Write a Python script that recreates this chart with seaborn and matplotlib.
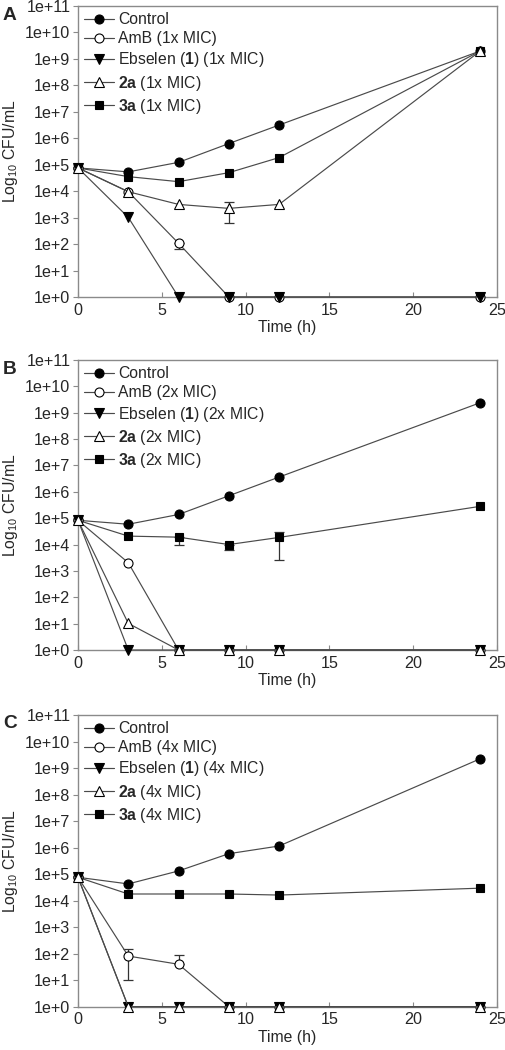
import numpy as np
import pandas as pd
import matplotlib
matplotlib.use("Agg")
import matplotlib.pyplot as plt
from matplotlib.ticker import FuncFormatter
import seaborn as sns

# ---------------- data (log10 CFU/mL) ----------------
times = [0, 3, 6, 9, 12, 24]

control_A = [4.88, 4.73, 5.09, 5.80, 6.50, 9.30]
amb_A     = [4.88, 3.98, 2.03, 0.0, 0.0, 0.0]
ebs_A     = [4.88, 3.01, 0.0, 0.0, 0.0, 0.0]
c2a_A     = [4.88, 3.98, 3.50, 3.35, 3.50, 9.30]
c3a_A     = [4.88, 4.55, 4.36, 4.70, 5.27, 9.30]

control_B = [4.92, 4.77, 5.14, 5.85, 6.56, 9.38]
amb_B     = [4.92, 3.31, 0.0, 0.0, 0.0, 0.0]
ebs_B     = [4.92, 0.0, 0.0, 0.0, 0.0, 0.0]
c2a_B     = [4.92, 1.01, 0.0, 0.0, 0.0, 0.0]
c3a_B     = [4.92, 4.32, 4.28, 4.00, 4.27, 5.45]

control_C = [4.88, 4.63, 5.12, 5.77, 6.06, 9.35]
amb_C     = [4.88, 1.91, 1.60, 0.0, 0.0, 0.0]
ebs_C     = [4.88, 0.0, 0.0, 0.0, 0.0, 0.0]
c2a_C     = [4.88, 0.0, 0.0, 0.0, 0.0, 0.0]
c3a_C     = [4.88, 4.25, 4.25, 4.25, 4.21, 4.47]

# error bars (lower, upper) in log10 units
err_lo_A = {"2a": [0, 0, 0, 0.56, 0, 0], "AmB": [0, 0, 0.22, 0, 0, 0]}
err_hi_A = {"2a": [0, 0, 0, 0.23, 0, 0], "AmB": [0, 0, 0, 0, 0, 0]}
err_lo_B = {"3a": [0, 0, 0.28, 0.21, 0.84, 0]}
err_hi_B = {"3a": [0, 0, 0, 0, 0.21, 0]}
err_lo_C = {"AmB": [0, 0.91, 0, 0, 0, 0]}
err_hi_C = {"AmB": [0, 0.26, 0.34, 0, 0, 0]}

panel_letters = ["A", "B", "C"]
mic_levels = ["1x", "2x", "4x"]
ytick_values = list(range(0, 12))
xtick_values = [0, 5, 10, 15, 20, 25]

panels = [
    {"Control": control_A, "AmB": amb_A, "Ebselen": ebs_A, "2a": c2a_A, "3a": c3a_A},
    {"Control": control_B, "AmB": amb_B, "Ebselen": ebs_B, "2a": c2a_B, "3a": c3a_B},
    {"Control": control_C, "AmB": amb_C, "Ebselen": ebs_C, "2a": c2a_C, "3a": c3a_C},
]
errs = [(err_lo_A, err_hi_A), (err_lo_B, err_hi_B), (err_lo_C, err_hi_C)]

# ---------------- style ----------------
sns.set_theme(style="white")
plt.rcParams["font.family"] = ["Liberation Sans", "DejaVu Sans"]
plt.rcParams["mathtext.fontset"] = "custom"
plt.rcParams["mathtext.rm"] = "Liberation Sans"
plt.rcParams["mathtext.bf"] = "Liberation Sans:bold"

FS = 11.3
TFS = 11.6
line_col = "#4a4a4a"
spine_col = "#8a8a8a"

styles = {
    "Control": dict(marker="o", mfc="black", ms=6.5),
    "AmB":     dict(marker="o", mfc="white", ms=6.5),
    "Ebselen": dict(marker="v", mfc="black", ms=7),
    "2a":      dict(marker="^", mfc="white", ms=7),
    "3a":      dict(marker="s", mfc="black", ms=6),
}

def labels_for(mic):
    return {
        "Control": "Control",
        "AmB": f"AmB ({mic} MIC)",
        "Ebselen": f"Ebselen ($\\mathbf{{1}}$) ({mic} MIC)",
        "2a": f"$\\mathbf{{2a}}$ ({mic} MIC)",
        "3a": f"$\\mathbf{{3a}}$ ({mic} MIC)",
    }

fig = plt.figure(figsize=(5.05, 10.5), dpi=100)
W, H = 505, 1050
boxes = [(6, 297), (360, 650), (715, 1006.7)]
left_px, right_px = 78, 497

order = ["Control", "AmB", "Ebselen", "2a", "3a"]
draw_order = ["Control", "3a", "AmB", "Ebselen", "2a"]

for i, (top, bot) in enumerate(boxes):
    ax = fig.add_axes([left_px / W, 1 - bot / H, (right_px - left_px) / W, (bot - top) / H])
    data = panels[i]
    lab = labels_for(mic_levels[i])
    lo, hi = errs[i]
    for key in draw_order:
        st = styles[key]
        df = pd.DataFrame({"t": times, "v": data[key]})
        sns.lineplot(data=df, x="t", y="v", ax=ax, color=line_col, lw=0.85,
                     marker=st["marker"], markersize=st["ms"],
                     markerfacecolor=st["mfc"], markeredgecolor="black",
                     markeredgewidth=0.8, label=lab[key], zorder=3, clip_on=False)
        if key in lo:
            t_arr = np.array(times)
            v_arr = np.array(data[key])
            l_arr = np.array(lo[key]); h_arr = np.array(hi[key])
            m = (l_arr > 0) | (h_arr > 0)
            ax.errorbar(t_arr[m], v_arr[m], yerr=[l_arr[m], h_arr[m]], fmt="none",
                        ecolor="#333333", elinewidth=0.9, capsize=3.5, capthick=0.9, zorder=2)
    h_, l_ = ax.get_legend_handles_labels()
    hmap = dict(zip(l_, h_))
    ax.legend([hmap[lab[k]] for k in order], [lab[k] for k in order],
              loc="upper left", bbox_to_anchor=(-0.012, 1.016), frameon=False,
              fontsize=FS, handlelength=1.9, handletextpad=0.3,
              labelspacing=0.26, borderaxespad=0.3)

    ax.set_xlim(0, 25)
    ax.set_ylim(0, 11)
    ax.set_xticks(xtick_values)
    ax.set_yticks(ytick_values)
    ax.yaxis.set_major_formatter(FuncFormatter(lambda v, p: f"1e+{int(round(v))}"))
    ax.tick_params(axis="x", direction="in", length=3.5, width=0.8, color=spine_col,
                   labelsize=TFS, pad=4, bottom=True)
    ax.tick_params(axis="y", direction="out", length=3.5, width=0.8, color=spine_col,
                   labelsize=TFS, pad=2, left=True)
    for s in ax.spines.values():
        s.set_color(spine_col)
        s.set_linewidth(1.0)
    ax.set_xlabel("Time (h)", fontsize=FS, labelpad=2)
    ax.set_ylabel("Log$_{10}$ CFU/mL", fontsize=FS, labelpad=4)
    ax.grid(False)
    fig.text(3 / W, 1 - (top + 9) / H, panel_letters[i], fontsize=FS + 2.5,
             fontweight="bold", ha="left", va="center")

fig.savefig("out.png", dpi=100)
